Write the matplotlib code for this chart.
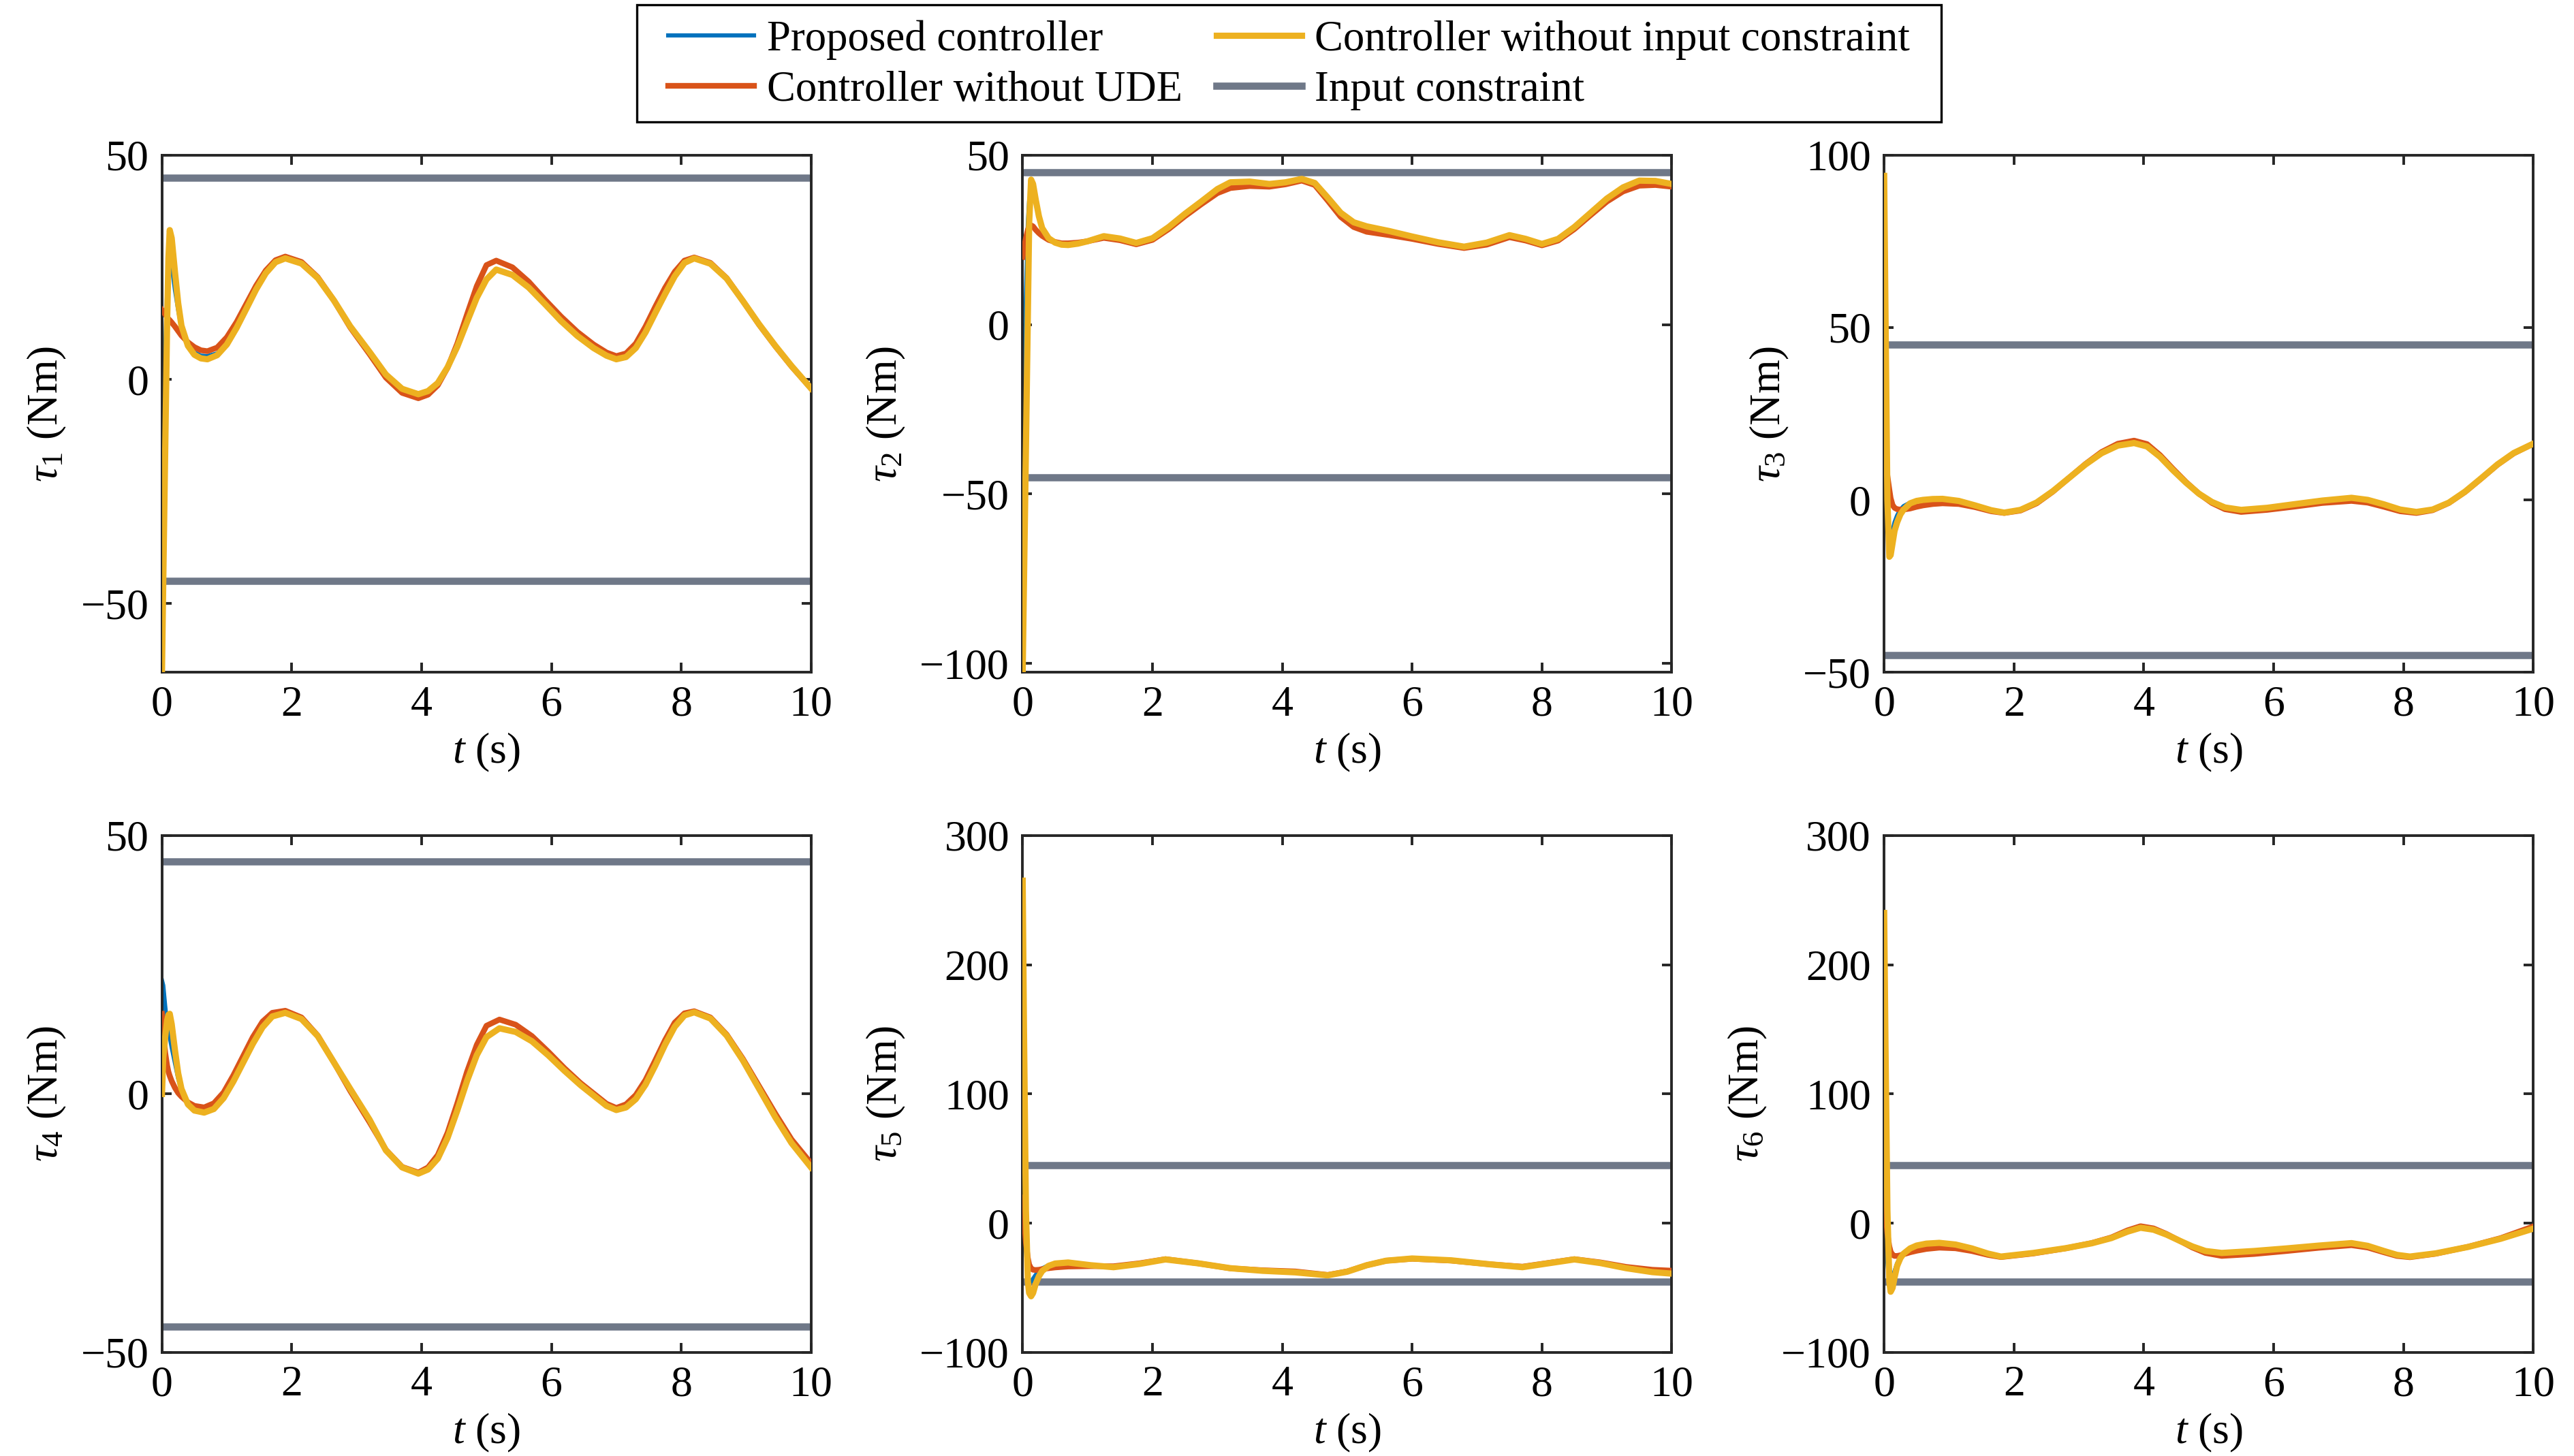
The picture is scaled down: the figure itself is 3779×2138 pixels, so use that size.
import numpy as np
import matplotlib.pyplot as plt
from matplotlib.patches import Rectangle

plt.rcParams['font.family'] = 'Liberation Serif'
plt.rcParams['mathtext.fontset'] = 'custom'
plt.rcParams['mathtext.rm'] = 'Liberation Serif'
plt.rcParams['mathtext.it'] = 'Liberation Serif:italic'
plt.rcParams['font.size'] = 23

u_max = 45  # input constraint (Nm)

# ---------------- tau1 ----------------
t1 = [0, 0.02, 0.05, 0.08, 0.1, 0.12, 0.15, 0.2, 0.25, 0.3, 0.4, 0.5, 0.6, 0.7,
      0.85, 1.0, 1.15, 1.3, 1.45, 1.6, 1.75, 1.9,
      2.15, 2.4, 2.65, 2.9, 3.2, 3.45, 3.7, 3.95,
      4.1, 4.25, 4.4, 4.55, 4.7, 4.85, 5.0, 5.15,
      5.4, 5.65, 5.9, 6.15, 6.4, 6.65, 6.85, 7.0,
      7.15, 7.3, 7.45, 7.6, 7.75, 7.9, 8.05, 8.2,
      8.45, 8.7, 8.95, 9.2, 9.45, 9.7, 10]
tau1_nolim = [-65.3, -45, -16, 13, 27, 33.3, 31.5, 24, 17, 12, 7.5, 5.5, 4.7, 4.5,
              5.4, 7.8, 11.5, 15.75, 20.05, 23.7, 26.15, 27,
              25.85, 22.6, 17.6, 11.85, 6.1, 1.1, -2.1, -3.3,
              -2.6, -0.8, 2.7, 7.3, 12.8, 18.2, 22.3, 24.5,
              23.3, 20.5, 16.8, 13, 9.7, 7, 5.3, 4.5,
              5.0, 7.0, 10.5, 14.8, 19, 23, 26, 27,
              25.8, 22.5, 17.5, 12.3, 7.5, 3, -2]
tau1_noude = [15.5, 15.1, 14.5, 13.9, 13.5, 13.2, 12.7, 11.8, 10.8, 9.8, 8.3, 7.2, 6.5, 6.3,
              7.1, 9.4, 12.8, 16.85, 20.9, 24.3, 26.6, 27.4,
              26.2, 22.8, 17.6, 11.6, 5.6, 0.4, -3.0, -4.2,
              -3.4, -1.3, 2.6, 8, 14.5, 20.8, 25.5, 26.5,
              25, 21.8, 17.8, 14, 10.6, 7.8, 6, 5.2,
              5.8, 8, 11.8, 16.2, 20.4, 24, 26.5, 27.2,
              26, 22.6, 17.5, 12.2, 7.4, 2.9, -2]
tau1_prop_start = [-34.5, -16, 6, 20, 25, 27, 25.5, 20, 15.5, 11.5, 7.8, 6, 5.3, 5.2, 5.8, 8.1]

# ---------------- tau2 ----------------
t2 = [0, 0.02, 0.05, 0.08, 0.1, 0.13, 0.16, 0.2, 0.25, 0.3, 0.4, 0.5, 0.6, 0.7,
      0.85, 1.0, 1.25, 1.5, 1.75,
      2.0, 2.25, 2.5, 2.75, 3.0, 3.2,
      3.5, 3.8, 4.05, 4.3,
      4.5, 4.7, 4.9, 5.1, 5.3,
      5.65, 6.0, 6.4, 6.8,
      7.15, 7.5, 7.75, 8.0,
      8.25, 8.5, 8.75, 9.0, 9.25, 9.5,
      9.75, 10]
tau2_nolim = [-102.6, -76, -37, 3, 30, 42.8, 41.5, 37, 32, 28.5, 25.5, 24.2, 23.6, 23.5,
              23.9, 24.6, 26.1, 25.4, 24.1,
              25.5, 28.8, 32.7, 36.3, 40, 42,
              42.2, 41.5, 42, 43,
              41.8, 37.5, 33, 30.2, 29,
              27.6, 26, 24.3, 23,
              24.2, 26.4, 25.3, 23.8,
              25.3, 28.8, 33, 37.2, 40.5, 42.5,
              42.4, 41.5]
tau2_noude = [20, 22.5, 25.5, 28, 29, 29.3, 29, 28, 27, 26.2, 25, 24.4, 24, 24,
              24.2, 24.6, 25.6, 24.9, 23.7,
              25, 28.2, 32, 35.5, 38.8, 40.3,
              40.9, 40.7, 41.4, 42.5,
              41.2, 36.6, 31.8, 28.8, 27.4,
              26.4, 25.3, 23.8, 22.6,
              23.6, 25.8, 24.8, 23.4,
              24.8, 28.2, 32.3, 36.3, 39.3, 41,
              41.2, 40.7]
tau2_prop_start = [-45, -25, 8, 30, 36.5, 39.5, 39.5, 36, 31.5, 28.3, 25.4, 24.2, 23.6, 23.5]

# ---------------- tau3 ----------------
t3 = [0, 0.02, 0.05, 0.08, 0.1, 0.13, 0.16, 0.2, 0.25, 0.3, 0.4, 0.5, 0.6, 0.75, 0.9,
      1.15, 1.4, 1.65, 1.85,
      2.1, 2.35, 2.6, 2.85, 3.1, 3.35, 3.6, 3.85,
      4.05, 4.25, 4.45, 4.65, 4.85, 5.05, 5.25, 5.5,
      5.9, 6.3, 6.75, 7.2,
      7.45, 7.7, 7.95, 8.2,
      8.45, 8.7, 8.95, 9.2, 9.45, 9.7, 10]
tau3_nolim = [94, 55, 0, -16.5, -16, -12.5, -9, -6.5, -4.2, -2.8, -1, -0.3, 0, 0.25, 0.3,
              -0.3, -1.6, -3.0, -3.7,
              -2.9, -0.75, 2.55, 6.4, 10.25, 13.55, 15.75, 16.5,
              15.5, 12.5, 8.6, 5, 1.8, -0.6, -2.2, -2.9,
              -2.3, -1.3, -0.2, 0.6,
              0, -1.3, -2.8, -3.5,
              -2.8, -0.8, 2.4, 6.3, 10.3, 13.6, 16.3]
tau3_noude = [24, 15, 7, 3, 0.5, -1.5, -2.3, -2.7, -2.8, -2.8, -2.5, -2, -1.6, -1.2, -1,
              -1.2, -2.1, -3.3, -3.8,
              -3.1, -1.0, 2.4, 6.4, 10.4, 13.9, 16.3, 17.2,
              16.2, 13, 9, 5.2, 1.8, -0.9, -2.7, -3.5,
              -2.9, -2, -0.9, -0.3,
              -0.8, -2, -3.3, -3.8,
              -3, -0.9, 2.3, 6.2, 10.2, 13.5, 16.3]
tau3_prop_start = [45, 28, 0, -11, -11.5, -9, -6.5, -4.5, -2.8, -1.8, -0.8, -0.3, 0, 0.25, 0.3]

# ---------------- tau4 ----------------
t4 = [0, 0.02, 0.05, 0.08, 0.1, 0.12, 0.15, 0.2, 0.25, 0.3, 0.4, 0.5, 0.65,
      0.8, 0.95, 1.1, 1.25, 1.4, 1.55, 1.7, 1.9,
      2.15, 2.4, 2.65, 2.9, 3.2, 3.45, 3.7, 3.95,
      4.1, 4.25, 4.4, 4.55, 4.7, 4.85, 5.0, 5.2,
      5.45, 5.7, 5.95, 6.2, 6.45, 6.7, 6.85, 7.0,
      7.15, 7.3, 7.45, 7.6, 7.75, 7.9, 8.05, 8.2,
      8.45, 8.7, 8.95, 9.2, 9.45, 9.7, 10]
tau4_nolim = [0, 7, 11, 14.2, 15.3, 15.5, 13.5, 8.5, 4, 1, -2, -3.2, -3.6,
              -2.9, -0.8, 2.4, 6.05, 9.7, 12.9, 15.0, 15.7,
              14.5, 11.2, 6.1, 1.0, -5.0, -10.9, -14.2, -15.4,
              -14.6, -12.5, -8.5, -3.2, 2.5, 7.5, 11, 12.7,
              12, 10.2, 7.5, 4.5, 1.7, -0.8, -2.3, -3.1,
              -2.6, -1.0, 1.8, 5.5, 9.5, 13, 15.2, 15.8,
              14.6, 11.3, 6.5, 1, -4.5, -9.5, -14.2]
tau4_noude = [15.5, 12, 8, 5.5, 4.3, 3.5, 2.5, 1.2, 0.2, -0.5, -1.6, -2.3, -2.6,
              -1.8, 0.3, 3.6, 7.3, 11, 14, 15.7, 16.1,
              14.8, 11.3, 6.1, 0.6, -5.5, -10.8, -14.1, -15.2,
              -14.2, -11.8, -7.5, -1.8, 4.3, 9.5, 13.2, 14.4,
              13.4, 11.2, 8.2, 5, 2.1, -0.4, -1.9, -2.7,
              -2.0, -0.2, 2.7, 6.5, 10.4, 13.8, 15.6, 16,
              14.8, 11.5, 6.8, 1.5, -3.8, -8.8, -13.4]
tau4_prop_start = [22, 21, 17, 13.5, 12, 11, 9, 6, 3, 0.8, -1.8, -3, -3.6]

# ---------------- tau5 ----------------
t5 = [0, 0.02, 0.05, 0.08, 0.1, 0.13, 0.16, 0.2, 0.25, 0.3, 0.4, 0.5, 0.7,
      1.05, 1.4, 1.8, 2.2,
      2.7, 3.2, 3.7, 4.2, 4.7,
      5.0, 5.3, 5.6, 6.0,
      6.6, 7.2, 7.7, 8.1, 8.5,
      8.9, 9.3, 9.7, 10]
tau5_nolim = [265, 150, 10, -45, -54, -56.5, -54, -47, -41, -37, -33, -31.2, -30.4,
              -32.5, -34, -31.5, -28,
              -31, -34.8, -36.8, -38, -40.3,
              -37.5, -32.5, -29, -27.3,
              -28.7, -31.8, -34, -31, -28,
              -30.8, -34.8, -37.8, -39]
tau5_noude = [20, 5, -15, -27, -32, -35, -36, -36.2, -36, -35.5, -34.8, -34.2, -33.5,
              -33.2, -33.3, -31, -27.8,
              -31, -34.9, -36.4, -37.3, -40,
              -37.3, -32.5, -29, -27.5,
              -28.9, -31.8, -33.6, -30.7, -27.8,
              -30.3, -33.8, -36, -36.7]
tau5_prop_start = [45, 20, -20, -42, -45, -45, -43, -40, -37, -35, -32.5, -31.2, -30.4]

# ---------------- tau6 ----------------
t6 = [0, 0.02, 0.05, 0.08, 0.1, 0.13, 0.16, 0.2, 0.25, 0.3, 0.4, 0.5, 0.65, 0.85,
      1.1, 1.35, 1.6, 1.8,
      2.3, 2.8, 3.2, 3.5, 3.75, 3.95,
      4.15, 4.35, 4.55, 4.75, 4.95, 5.2,
      5.7, 6.2, 6.7, 7.2,
      7.45, 7.7, 7.9, 8.1,
      8.5, 9.0, 9.5, 10]
tau6_nolim = [240, 140, 10, -45, -53, -50, -42, -33, -27, -23.5, -19.5, -17.3, -15.8, -15.2,
              -16.5, -19.5, -23.5, -25.8,
              -23, -19.3, -15.5, -11.5, -6.5, -3.5,
              -5, -8.8, -13.5, -18, -21.5, -23,
              -21.5, -19.5, -17.3, -15.4,
              -17.5, -21.5, -24.5, -25.8,
              -23.3, -18.3, -12, -4.2]
tau6_noude = [24, 10, -8, -18, -22, -24.5, -25.3, -25.3, -24.8, -24, -22.5, -21.3, -19.9, -18.9,
              -19.4, -21.5, -24.5, -26.2,
              -23.4, -19.4, -15.3, -11, -5.5, -2.3,
              -4, -8.3, -13.5, -18.8, -23, -25.3,
              -23.8, -21.5, -19, -17,
              -18.8, -22.5, -25.3, -26.3,
              -23.6, -18.2, -11.5, -2.5]
tau6_prop_start = [45, 15, -30, -45, -45, -42, -37, -31, -26.5, -23.3, -19.5, -17.3, -15.8, -15.2]

# after the start-up the proposed controller runs under the yellow curve
panels = [
    (t1, tau1_prop_start + tau1_nolim[len(tau1_prop_start):], tau1_noude, tau1_nolim, (-65.3, 50), [-50, 0, 50]),
    (t2, tau2_prop_start + tau2_nolim[len(tau2_prop_start):], tau2_noude, tau2_nolim, (-102.6, 50), [-100, -50, 0, 50]),
    (t3, tau3_prop_start + tau3_nolim[len(tau3_prop_start):], tau3_noude, tau3_nolim, (-50, 100), [-50, 0, 50, 100]),
    (t4, tau4_prop_start + tau4_nolim[len(tau4_prop_start):], tau4_noude, tau4_nolim, (-50, 50), [-50, 0, 50]),
    (t5, tau5_prop_start + tau5_nolim[len(tau5_prop_start):], tau5_noude, tau5_nolim, (-100, 300), [-100, 0, 100, 200, 300]),
    (t6, tau6_prop_start + tau6_nolim[len(tau6_prop_start):], tau6_noude, tau6_nolim, (-100, 300), [-100, 0, 100, 200, 300]),
]

c_prop = '#0072BD'
c_noude = '#D95319'
c_nolim = '#EDB120'
c_lim = '#6F7888'
c_axis = '#262626'

fig = plt.figure(figsize=(18.9, 10.69), dpi=200)

lefts = [0.0629, 0.3972, 0.7318]
bottoms = [0.5383, 0.0711]
w, h = 0.2521, 0.3551

for k, (t, prop, noude, nolim, ylim, yticks) in enumerate(panels):
    ax = fig.add_axes([lefts[k % 3], bottoms[k // 3], w, h])
    l4 = ax.axhline(u_max, color=c_lim, lw=3.8, zorder=1)
    ax.axhline(-u_max, color=c_lim, lw=3.8, zorder=1)
    l1, = ax.plot(t, prop, color=c_prop, lw=2.2, zorder=2)
    l2, = ax.plot(t, noude, color=c_noude, lw=3.0, zorder=3)
    l3, = ax.plot(t, nolim, color=c_nolim, lw=3.3, zorder=4)
    ax.set_xlim(0, 10)
    ax.set_ylim(*ylim)
    ax.set_xticks([0, 2, 4, 6, 8, 10])
    ax.set_yticks(yticks)
    ax.tick_params(direction='in', top=True, right=True, length=5, width=1.4,
                   color=c_axis, labelsize=23, pad=7)
    for sp in ax.spines.values():
        sp.set_linewidth(1.4)
        sp.set_color(c_axis)
    ax.set_xlabel('$t$ (s)', fontsize=23, labelpad=3.5)
    ax.set_ylabel(r'$\tau_%d$ (Nm)' % (k + 1), fontsize=23, labelpad=6.5)

leg = fig.legend([l1, l2, l3, l4],
                 ['Proposed controller', 'Controller without UDE',
                  'Controller without input constraint', 'Input constraint'],
                 loc='upper left', bbox_to_anchor=(0.2596, 0.9862), ncol=2,
                 fontsize=22.6, frameon=False,
                 handlelength=2.0, handletextpad=0.3, columnspacing=0.8,
                 labelspacing=0.26, borderpad=0, borderaxespad=0)
# legend frame (MATLAB style, wider padding than matplotlib's)
fig.add_artist(Rectangle((0.2474, 0.9163), 0.5065, 0.0804, transform=fig.transFigure,
                         fill=False, edgecolor='black', lw=1.2))

fig.savefig('out.png', dpi=200)
